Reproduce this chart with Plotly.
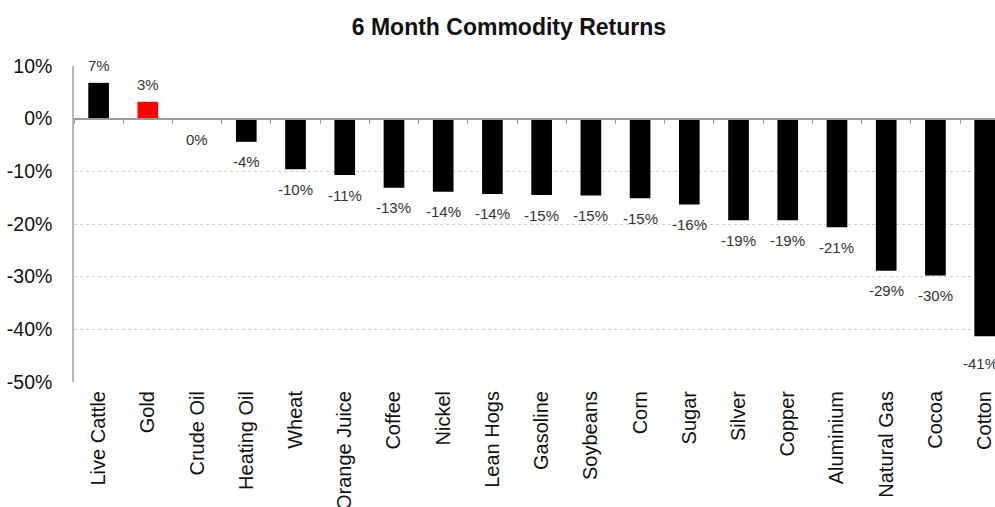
import plotly.graph_objects as go

categories = ["Live Cattle", "Gold", "Crude Oil", "Heating Oil", "Wheat", "Orange Juice",
              "Coffee", "Nickel", "Lean Hogs", "Gasoline", "Soybeans", "Corn", "Sugar",
              "Silver", "Copper", "Aluminium", "Natural Gas", "Cocoa", "Cotton"]
returns = [6.8, 3.2, -0.1, -4.4, -9.6, -10.7, -13.1, -13.9, -14.3, -14.5, -14.6, -15.1,
           -16.3, -19.3, -19.3, -20.6, -28.9, -29.8, -41.3]
labels = ["7%", "3%", "0%", "-4%", "-10%", "-11%", "-13%", "-14%", "-14%", "-15%", "-15%",
          "-15%", "-16%", "-19%", "-19%", "-21%", "-29%", "-30%", "-41%"]
highlight = "Gold"
y_ticks = [10, 0, -10, -20, -30, -40, -50]
y_tick_labels = ["10%", "0%", "-10%", "-20%", "-30%", "-40%", "-50%"]
y_range = [-50, 10]

colors = ["#FF0000" if c == highlight else "#000000" for c in categories]

fig = go.Figure()
fig.add_trace(go.Bar(x=categories, y=returns, marker=dict(color=colors, line=dict(width=0)),
                     width=0.42, hoverinfo="x+y", showlegend=False))
# helper trace for the category axis drawn through zero
fig.add_trace(go.Scatter(x=categories, y=[0] * len(categories), xaxis="x2", mode="markers",
                         marker=dict(opacity=0), hoverinfo="skip", showlegend=False))

for c, v, t in zip(categories, returns, labels):
    if c == "Cotton":
        shift, xs = -27, -4
    elif v > 0:
        shift, xs = 17, 0
    else:
        shift, xs = -20, 0
    fig.add_annotation(x=c, y=v, text=t, showarrow=False, yshift=shift, xshift=xs,
                       font=dict(family="Liberation Sans, Arial", size=15, color="#333333"))

zero_pos = (0 - y_range[0]) / (y_range[1] - y_range[0])

fig.update_layout(
    width=995, height=507,
    margin=dict(l=74, r=0, t=66, b=125),
    paper_bgcolor="white", plot_bgcolor="white",
    title=dict(text="<b>6 Month Commodity Returns</b>", x=0.5115, xanchor="center",
               y=0.947, yanchor="middle",
               font=dict(family="Liberation Sans, Arial", size=23, color="#111111")),
    xaxis=dict(type="category", categoryorder="array", categoryarray=categories,
               range=[-0.5, 18.21], showline=False, showgrid=False, ticks="",
               tickangle=-90, ticklabelstandoff=4, automargin=False,
               tickfont=dict(family="Liberation Sans, Arial", size=20, color="#111111")),
    xaxis2=dict(type="category", categoryorder="array", categoryarray=categories,
                overlaying="x", matches="x", anchor="free", position=zero_pos,
                showline=True, linecolor="#9a9a9a", linewidth=1.5, automargin=False,
                ticks="outside", tickson="boundaries", ticklen=5, tickcolor="#9a9a9a",
                showticklabels=False, showgrid=False),
    yaxis=dict(range=y_range, tickvals=y_ticks, ticktext=y_tick_labels,
               showline=True, linecolor="#b8b8b8", linewidth=1.5, automargin=False,
               showgrid=True, gridcolor="#cccccc", griddash="3px,3px", gridwidth=1,
               zeroline=False, ticks="", ticklabelstandoff=16,
               tickfont=dict(family="Liberation Sans, Arial", size=19.5, color="#111111")),
)

fig.write_html("out.html", config={"displayModeBar": False},
               post_script="document.body.style.margin='0';document.body.style.overflow='hidden';")
